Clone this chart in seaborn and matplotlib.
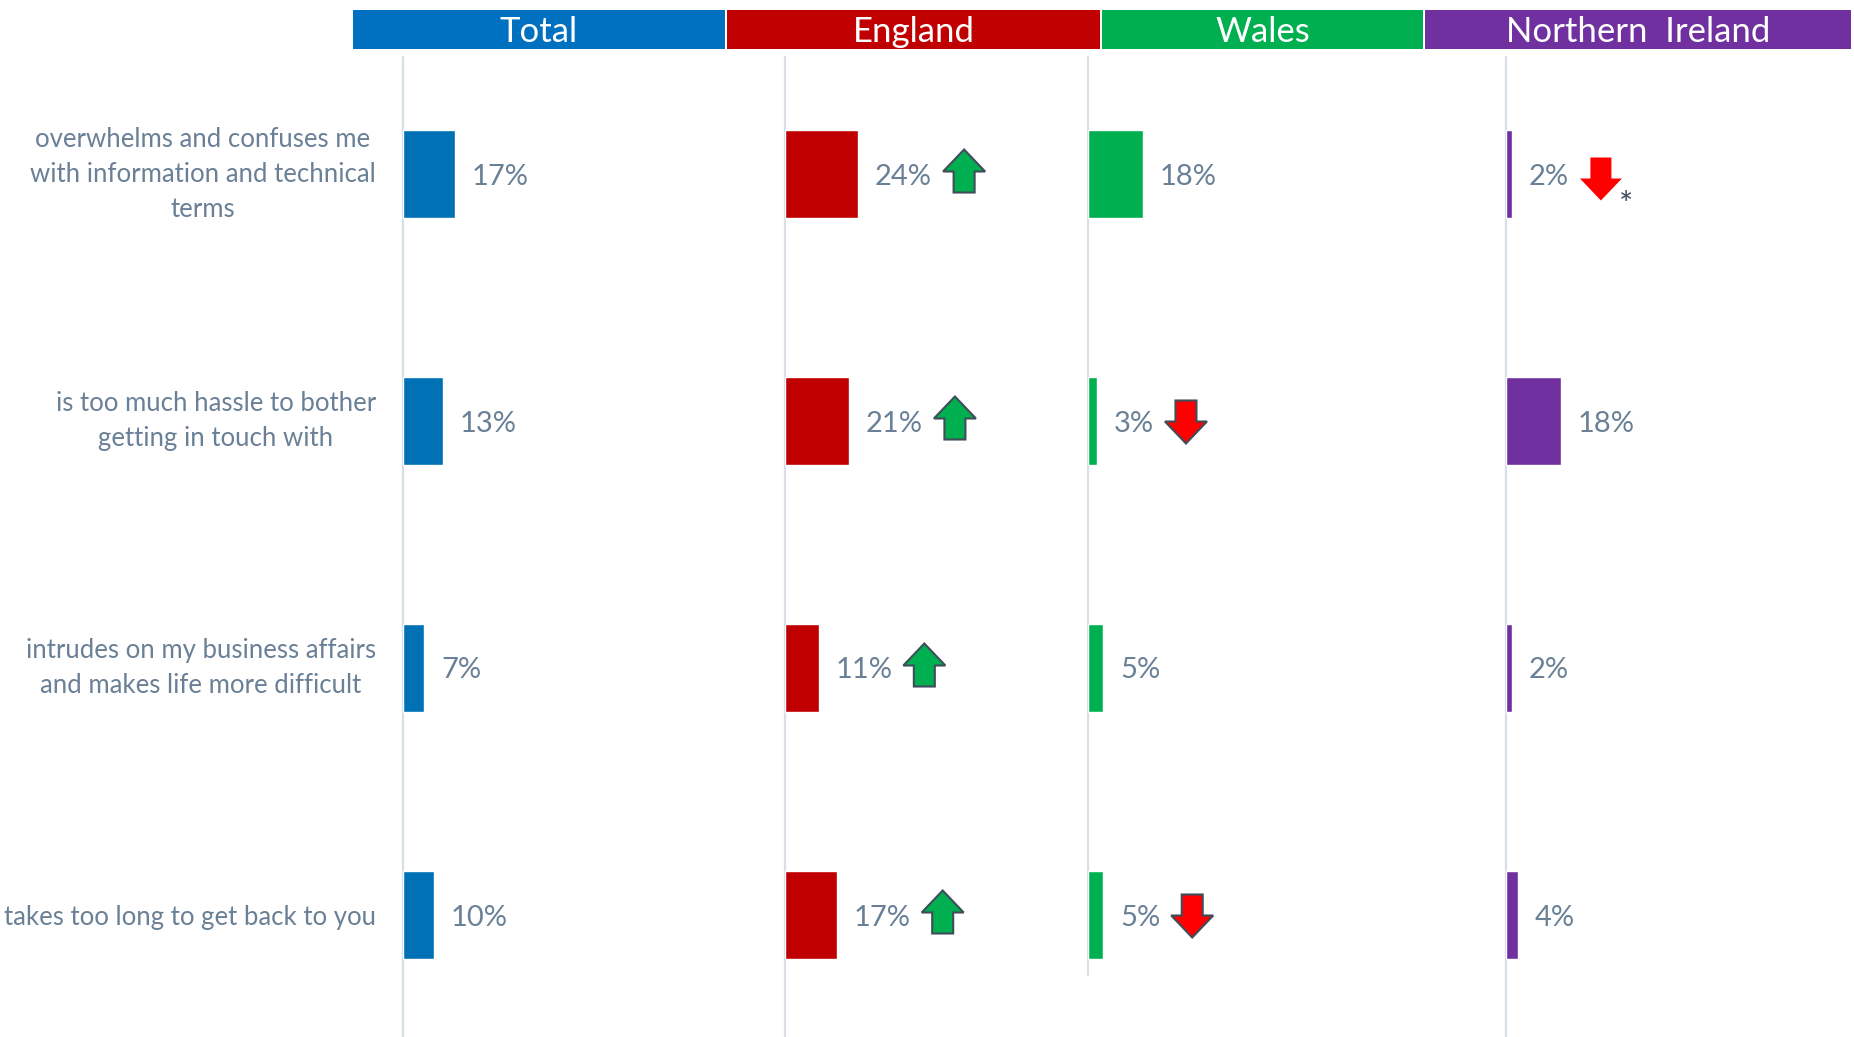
import matplotlib
matplotlib.use("Agg")
import matplotlib.pyplot as plt
import numpy as np
import pandas as pd
import seaborn as sns
from matplotlib.patches import Polygon, Rectangle
from matplotlib.transforms import Affine2D

# ---- data -------------------------------------------------------------
statements = [
    "overwhelms and confuses me\nwith information and technical\nterms",
    "is too much hassle to bother\ngetting in touch with",
    "intrudes on my business affairs\nand makes life more difficult",
    "takes too long to get back to you",
]
regions = ["Total", "England", "Wales", "Northern  Ireland"]
total_pct = [17, 13, 7, 10]
england_pct = [24, 21, 11, 17]
wales_pct = [18, 3, 5, 5]
ni_pct = [2, 18, 2, 4]

# significance versus the total: "up", "down" or None
england_sig = ["up", "up", "up", "up"]
wales_sig = [None, "down", None, "down"]
ni_sig = ["down", None, None, None]
total_sig = [None, None, None, None]
# low base size flag shown next to the marker
ni_low_base = [True, False, False, False]

# ---- styling ------------------------------------------------------------
sns.set_theme(style="white")
plt.rcParams["font.family"] = ["Lato", "DejaVu Sans"]

W, H = 1854, 1037
fig = plt.figure(figsize=(W / 100, H / 100), dpi=100)

TEXT = "#6A8096"
GRID = "#D9DFE6"
OUTLINE = "#3F4D5A"
PX_PER_PCT = 3.06
TOP, BOTTOM = 57, 1037
ROW0, ROW_STEP = 174.0, 247.0
Y_LIMS = (3 + (BOTTOM - ROW0 - 3 * ROW_STEP) / ROW_STEP, -(ROW0 - TOP) / ROW_STEP)
BAR_H = 0.356

# (values, significance, bar colour, header colour, axes x0, x1, header x0, x1,
#  baseline line bottom, marker y-offset)
panels = [
    (total_pct, total_sig, "#0171B6", "#0070C0", 403, 725, 353, 725, BOTTOM, 0),
    (england_pct, england_sig, "#C00000", "#C00000", 785, 1101, 727, 1100, BOTTOM, 3),
    (wales_pct, wales_sig, "#00B050", "#00B050", 1088, 1425, 1102, 1423, 975, -1),
    (ni_pct, ni_sig, "#7030A0", "#7030A0", 1506, 1850, 1425, 1851, BOTTOM, -5),
]


def fig_rect(x0, x1, y0, y1):
    """Pixel box (origin top-left) -> figure fraction rectangle."""
    return [x0 / W, 1 - y1 / H, (x1 - x0) / W, (y1 - y0) / H]


def arrow_shape(direction):
    w, h, shaft, head = 21.0, 21.5, 10.5, 22.0
    base = h - head
    pts = np.array([
        (0, h), (w, base), (shaft, base), (shaft, -h),
        (-shaft, -h), (-shaft, base), (-w, base),
    ])
    if direction == "down":
        pts[:, 1] *= -1
    return pts


axes_info = []
for k, (vals, sig, bar_col, head_col, x0, x1, hx0, hx1, line_bottom, yoff) in enumerate(panels):
    ax = fig.add_axes(fig_rect(x0, x1, TOP, BOTTOM))
    df = pd.DataFrame({"statement": statements, "pct": vals})
    sns.barplot(data=df, x="pct", y="statement", orient="h", color=bar_col,
                saturation=1, width=BAR_H, errorbar=None, ax=ax, zorder=3)
    ax.set_xlim(0, (x1 - x0) / PX_PER_PCT)
    ax.set_ylim(*Y_LIMS)
    for s in ax.spines.values():
        s.set_visible(False)
    ax.set_xticks([])
    ax.set_xlabel("")
    ax.set_ylabel("")
    frac_bottom = (BOTTOM - line_bottom) / (BOTTOM - TOP)
    ax.axvline(0, ymin=frac_bottom, ymax=1, color=GRID, lw=1.6,
               clip_on=False, zorder=2)
    if k == 0:
        ax.tick_params(axis="y", length=0, pad=19.5, labelsize=18.5,
                       labelcolor=TEXT)
        for lab in ax.get_yticklabels():
            lab.set_multialignment("center")
            lab.set_linespacing(1.5)
            if "\n" in lab.get_text():
                lab.set_va("center")
    else:
        ax.set_yticks([])

    labels = ax.bar_label(ax.containers[0], labels=[f"{v}%" for v in vals],
                          padding=12, fontsize=21, color=TEXT)
    for t in labels:
        t.set_va("center_baseline")
    axes_info.append((ax, labels, sig, yoff))

    # header block
    fig.add_artist(Rectangle((hx0 / W, 1 - 49 / H), (hx1 - hx0) / W, 39 / H,
                             transform=fig.transFigure, facecolor=head_col,
                             edgecolor="none"))
    fig.text((hx0 + hx1) / 2 / W, 1 - 42 / H, regions[k], color="white",
             fontsize=25, ha="center", va="baseline")

# significance arrows placed after the value labels
fig.canvas.draw()
renderer = fig.canvas.get_renderer()
for k, (ax, labels, sig, yoff) in enumerate(axes_info):
    for i, (lab, s) in enumerate(zip(labels, sig)):
        if s is None:
            continue
        bb = lab.get_window_extent(renderer)
        cx = bb.x1 + 11 + 21
        cy = ax.transData.transform((0, i))[1] + yoff
        face = "#00B050" if s == "up" else "#FF0000"
        edge = "none" if (k == 3) else OUTLINE
        poly = Polygon(arrow_shape(s), closed=True, facecolor=face,
                       edgecolor=edge, lw=1.5,
                       transform=Affine2D().translate(cx, cy), zorder=5)
        fig.add_artist(poly)
        if k == 3 and ni_low_base[i]:
            fig.text((cx + 25) / W, (cy - 27) / H, "*", color=OUTLINE,
                     fontsize=24, ha="center", va="center")

fig.savefig("out.png", dpi=100, facecolor="white")
